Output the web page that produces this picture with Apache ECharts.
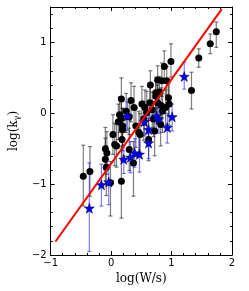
<!DOCTYPE html>
<html><head><meta charset="utf-8">
<script src="https://cdn.jsdelivr.net/npm/echarts@6/dist/echarts.min.js"></script>
<style>html,body{margin:0;padding:0;background:#fff}#c{width:249px;height:291px}</style>
</head><body><div id="c"></div>
<script>
// black points (circles)
const blackX  = [1.74,1.64,1.45,1.33,0.99,0.88,0.77,0.84,0.92,0.74,0.95,0.96,0.90,0.77,0.64,0.51,0.33,0.38,0.56,0.59,0.54,0.17,0.19,0.41,0.46,0.72,0.85,0.70,0.48,0.19,0.18,0.06,0.09,-0.095,-0.07,-0.095,-0.08,-0.35,-0.46,-0.01,0.17,0.37,0.30,0.62,0.82,0.25,0.17,0.65,0.12,0.30,0.68,0.80,0.74,0.83,0.14,0.03];
const blackY  = [1.15,0.98,0.78,0.32,0.73,0.66,0.47,0.46,0.46,0.29,0.22,0.13,0.08,0.15,0.15,0.13,0.18,0.08,0.08,0.01,-0.08,-0.07,-0.18,-0.18,-0.27,-0.25,0.03,-0.08,-0.30,-0.23,-0.37,-0.44,-0.46,-0.50,-0.56,-0.65,-0.76,-0.82,-0.89,-0.98,-0.96,-0.70,-0.51,-0.37,-0.16,0.03,0.20,0.40,-0.12,-0.05,0.05,0.30,0.24,0.11,-0.02,-0.30];
const blackUp = [0.14,0.14,0.13,0.26,0.25,0.22,0.20,0.25,0.20,0.22,0.24,0.30,0.25,0.25,0.25,0.25,0.25,0.30,0.25,0.30,0.25,0.30,0.25,0.25,0.30,0.30,0.25,0.25,0.30,0.30,0.25,0.30,0.30,0.30,0.30,0.30,0.30,0.35,0.44,0.30,0.50,0.30,0.30,0.30,0.25,0.25,0.30,0.20,0.25,0.25,0.25,0.22,0.22,0.25,0.25,0.28];
const blackDn = [0.22,0.14,0.13,0.26,0.22,0.20,0.20,0.22,0.20,0.22,0.25,0.30,0.25,0.30,0.25,0.30,0.30,0.25,0.25,0.30,0.30,0.30,0.30,0.30,0.30,0.35,0.30,0.25,0.25,0.30,0.30,0.30,0.30,0.30,0.30,0.35,0.40,0.35,0.42,0.47,0.52,0.47,0.30,0.30,0.30,0.30,0.30,0.25,0.25,0.25,0.25,0.22,0.22,0.30,0.25,0.28];
// blue stars
const starX  = [1.21,1.01,0.93,0.79,0.75,0.62,0.62,0.47,0.39,0.32,0.21,0.27,-0.04,-0.16,-0.36,0.55];
const starY  = [0.52,-0.05,-0.20,-0.08,-0.04,-0.23,-0.42,-0.58,-0.56,-0.62,-0.65,-0.04,-0.97,-1.01,-1.34,-0.12];
const starUp = [0.20,0.18,0.20,0.20,0.20,0.20,0.20,0.25,0.20,0.22,0.20,0.20,0.25,0.29,0.64,0.20];
const starDn = [0.18,0.20,0.22,0.20,0.20,0.20,0.22,0.25,0.20,0.22,0.20,0.20,0.32,0.30,0.61,0.20];
// fit line endpoints
const fitX = [-0.92, 1.83];
const fitY = [-1.81, 1.47];
const xTicks = [-1, 0, 1, 2];
const yTicks = [-2, -1, 0, 1];

const fmt = v => (v < 0 ? '\u2212' + Math.abs(v) : String(v));
const errData = (xs, ys, up, dn) => xs.map((x, i) => [x, ys[i] - dn[i], ys[i] + up[i]]);
const errRender = color => (params, api) => {
  const x = api.value(0);
  const lo = api.coord([x, api.value(1)]);
  const hi = api.coord([x, api.value(2)]);
  const c = 2;
  const st = { stroke: color, lineWidth: 1.2 };
  return { type: 'group', children: [
    { type: 'line', shape: { x1: lo[0], y1: lo[1], x2: hi[0], y2: hi[1] }, style: st },
    { type: 'line', shape: { x1: lo[0]-c, y1: lo[1], x2: lo[0]+c, y2: lo[1] }, style: st },
    { type: 'line', shape: { x1: hi[0]-c, y1: hi[1], x2: hi[0]+c, y2: hi[1] }, style: st }
  ]};
};
const star = 'path://M0,-10 L2.35,-3.24 L9.51,-3.09 L3.8,1.24 L5.88,8.09 L0,4 L-5.88,8.09 L-3.8,1.24 L-9.51,-3.09 L-2.35,-3.24 Z';

const axisCommon = {
  axisLine: { show: true, onZero: false, lineStyle: { color: '#000', width: 1 } },
  axisTick: { show: true, inside: true, length: 4, lineStyle: { color: '#000' } },
  minorTick: { show: true, splitNumber: 5, length: 2, lineStyle: { color: '#000' } },
  splitLine: { show: false }
};
const labelStyle = { color: '#000', fontSize: 10, fontFamily: 'DejaVu Sans', formatter: fmt };

const chart = echarts.init(document.getElementById('c'), null, { renderer: 'canvas' });
chart.setOption({
  animation: false,
  backgroundColor: '#fff',
  grid: { left: 43, right: 17, top: 7, bottom: 36 },
  xAxis: [
    Object.assign({ type: 'value', min: -1, max: 2, interval: 1, position: 'bottom',
      name: 'log(W/s)', nameLocation: 'middle', nameGap: 17,
      nameTextStyle: { color: '#000', fontSize: 12, fontFamily: 'DejaVu Serif' },
      axisLabel: Object.assign({ margin: 3 }, labelStyle) }, axisCommon),
    Object.assign({ type: 'value', min: -1, max: 2, interval: 1, position: 'top',
      axisLabel: { show: false } }, axisCommon)
  ],
  yAxis: [
    Object.assign({ type: 'value', min: -2, max: 1.5, interval: 1, position: 'left',
      name: '{a|log(k}{b|γ}{a|)}', nameLocation: 'middle', nameGap: 20,
      nameTextStyle: { color: '#000', fontFamily: 'DejaVu Serif',
        rich: { a: { fontSize: 12, fontFamily: 'DejaVu Serif', color: '#000' },
                b: { fontSize: 8, fontFamily: 'DejaVu Serif', color: '#000', verticalAlign: 'bottom', padding: [6,0,0,0] } } },
      axisLabel: Object.assign({ margin: 4, showMaxLabel: false }, labelStyle) }, axisCommon),
    Object.assign({ type: 'value', min: -2, max: 1.5, interval: 1, position: 'right',
      axisLabel: { show: false } }, axisCommon)
  ],
  series: [
    { type: 'custom', renderItem: errRender('rgba(0,0,0,0.5)'), data: errData(blackX, blackY, blackUp, blackDn),
      encode: { x: 0, y: [1, 2] }, z: 1, silent: true },
    { type: 'custom', renderItem: errRender('rgba(0,0,255,0.5)'), data: errData(starX, starY, starUp, starDn),
      encode: { x: 0, y: [1, 2] }, z: 1, silent: true },
    { type: 'scatter', data: blackX.map((x, i) => [x, blackY[i]]), symbol: 'circle', symbolSize: 7,
      itemStyle: { color: '#000', opacity: 1 }, z: 3 },
    { type: 'scatter', data: starX.map((x, i) => [x, starY[i]]), symbol: star, symbolSize: 10,
      itemStyle: { color: '#0000ff', borderColor: '#000033', borderWidth: 0.5, opacity: 1 }, z: 4 },
    { type: 'line', data: fitX.map((x, i) => [x, fitY[i]]), symbol: 'none',
      lineStyle: { color: '#ff0000', width: 2 }, z: 5 }
  ]
});
</script></body></html>
